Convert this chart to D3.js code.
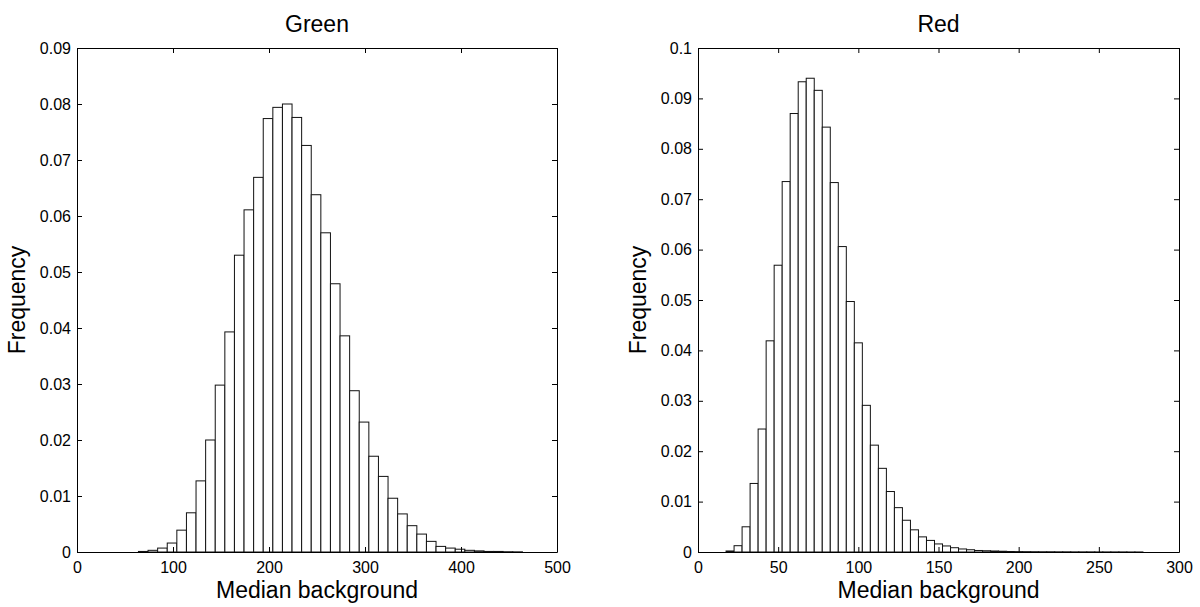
<!DOCTYPE html>
<html>
<head>
<meta charset="utf-8">
<script src="https://cdn.jsdelivr.net/npm/d3@7"></script>
<style>
  body { margin: 0; background: #fff; }
  svg { font-family: "Liberation Sans", Arial, Helvetica, sans-serif; }
  .tick text { font-size: 16px; fill: #000; }
  .domain, .tick line { stroke: #000; }
  .bar { fill: #fff; stroke: #111; stroke-width: 1; }
</style>
</head>
<body>
<div id="chart"></div>
<script>
// histogram data
var greenCenters = [69, 79, 89, 99, 109, 119, 129, 139, 149, 159, 169, 179, 189, 199, 209, 219, 229, 239, 249, 259,
  269, 279, 289, 299, 309, 319, 329, 339, 349, 359, 369, 379, 389, 399, 409, 419, 429, 439, 449, 459];
var greenFreq = [0.0001, 0.0003, 0.0007, 0.0016, 0.0039, 0.0070, 0.0127, 0.0200, 0.0298, 0.0393, 0.0530, 0.0611,
  0.0669, 0.0774, 0.0794, 0.0800, 0.0776, 0.0726, 0.0638, 0.0570, 0.0479, 0.0386, 0.0288, 0.0232, 0.0171, 0.0135,
  0.0096, 0.0068, 0.0047, 0.0032, 0.0019, 0.0010, 0.0007, 0.0005, 0.0003, 0.0002, 0.0001, 0.0001, 0.00005, 0.00003];
var greenBinWidth = 10;
var greenXTicks = [0, 100, 200, 300, 400, 500];
var greenYTicks = [0, 0.01, 0.02, 0.03, 0.04, 0.05, 0.06, 0.07, 0.08, 0.09];

var redCenters = [20, 25, 30, 35, 40, 45, 50, 55, 60, 65, 70, 75, 80, 85, 90, 95, 100, 105, 110, 115, 120, 125,
  130, 135, 140, 145, 150, 155, 160, 165, 170, 175, 180, 185, 190, 195, 200, 205, 210, 215, 220, 225, 230, 235,
  240, 245, 250, 255, 260, 265, 270, 275];
var redFreq = [0.0002, 0.00125, 0.0050, 0.0136, 0.0244, 0.0419, 0.0569, 0.0735, 0.0870, 0.0933, 0.0940, 0.0916,
  0.0843, 0.0733, 0.0606, 0.0497, 0.0415, 0.0291, 0.0212, 0.0166, 0.0120, 0.0088, 0.0063, 0.0044, 0.0030, 0.0023,
  0.0016, 0.0012, 0.00085, 0.0006, 0.00045, 0.0003, 0.00025, 0.0002, 0.00015, 0.0001, 0.00008, 0.00007, 0.00006,
  0.00005, 0.00005, 0.00004, 0.00004, 0.00003, 0.00003, 0.00003, 0.00002, 0.00002, 0.00002, 0.00002, 0.00001, 0.00001];
var redBinWidth = 5;
var redXTicks = [0, 50, 100, 150, 200, 250, 300];
var redYTicks = [0, 0.01, 0.02, 0.03, 0.04, 0.05, 0.06, 0.07, 0.08, 0.09, 0.1];

var svgWidth = 1200;
var svgHeight = 607;

var svg = d3.select("#chart")
  .append("svg")
  .attr("width", svgWidth)
  .attr("height", svgHeight);

function drawHist(opt) {
  var w = opt.width, h = 504;
  var g = svg.append("g").attr("transform", "translate(" + opt.left + ",48)");

  var xScale = d3.scaleLinear().domain(opt.xDomain).range([0, w]);
  var yScale = d3.scaleLinear().domain(opt.yDomain).range([h, 0]);

  var bins = opt.centers.map(function(c, i) { return { c: c, f: opt.freq[i] }; });

  g.selectAll("rect.bar")
    .data(bins)
    .enter()
    .append("rect")
    .attr("class", "bar")
    .attr("x", d => xScale(d.c - opt.binWidth / 2))
    .attr("width", d => xScale(d.c + opt.binWidth / 2) - xScale(d.c - opt.binWidth / 2))
    .attr("y", d => yScale(d.f))
    .attr("height", d => h - yScale(d.f));

  var fmt = d => d === 0 ? "0" : String(+d.toFixed(2));

  // matlab style box with inward ticks
  g.append("g")
    .attr("transform", "translate(0," + h + ")")
    .call(d3.axisBottom(xScale).tickValues(opt.xTicks).tickSizeInner(-5).tickSizeOuter(0).tickPadding(10))
    .call(a => a.selectAll("text").attr("font-family", null).attr("font-size", null));
  g.append("g")
    .call(d3.axisTop(xScale).tickValues(opt.xTicks).tickSizeInner(-5).tickSizeOuter(0).tickFormat(""));
  g.append("g")
    .call(d3.axisLeft(yScale).tickValues(opt.yTicks).tickSizeInner(-5).tickSizeOuter(0).tickPadding(6).tickFormat(fmt))
    .call(a => a.selectAll("text").attr("font-family", null).attr("font-size", null));
  g.append("g")
    .attr("transform", "translate(" + w + ",0)")
    .call(d3.axisRight(yScale).tickValues(opt.yTicks).tickSizeInner(-5).tickSizeOuter(0).tickFormat(""));

  // title
  g.append("text")
    .attr("x", w / 2)
    .attr("y", -16)
    .attr("text-anchor", "middle")
    .style("font-size", "23px")
    .text(opt.title);

  // x label
  g.append("text")
    .attr("x", w / 2)
    .attr("y", h + 46)
    .attr("text-anchor", "middle")
    .style("font-size", "23px")
    .text("Median background");

  // y label
  g.append("text")
    .attr("transform", "translate(-52," + (h / 2) + ")rotate(-90)")
    .attr("text-anchor", "middle")
    .style("font-size", "23px")
    .text("Frequency");
}

drawHist({ left: 77, width: 480, title: "Green", centers: greenCenters, freq: greenFreq, binWidth: greenBinWidth,
  xDomain: [0, 500], yDomain: [0, 0.09], xTicks: greenXTicks, yTicks: greenYTicks });
drawHist({ left: 698, width: 481, title: "Red", centers: redCenters, freq: redFreq, binWidth: redBinWidth,
  xDomain: [0, 300], yDomain: [0, 0.1], xTicks: redXTicks, yTicks: redYTicks });
</script>
</body>
</html>
